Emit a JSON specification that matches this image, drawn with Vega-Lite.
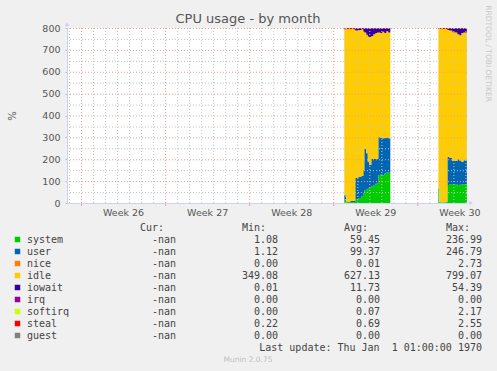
{
  "$schema": "https://vega.github.io/schema/vega-lite/v6.json",
  "width": 400,
  "height": 175,
  "autosize": {"type": "none"},
  "padding": {"left": 67, "top": 28, "right": 30, "bottom": 168},
  "background": "#F0F0F0",
  "view": {"fill": "#FFFFFF", "stroke": null},
  "config": {"font": "DejaVu Sans"},
  "title": {"text": "CPU usage - by month", "font": "DejaVu Sans", "fontSize": 13, "fontWeight": "normal", "color": "#555555", "anchor": "middle", "frame": "group", "dx": -19, "dy": 27, "offset": 6},
  "datasets": {
    "cpu": [
      {"h": 526, "g": 1, "system": 15, "user": 20, "idle": 759, "iowait": 2, "steal": 4},
      {"h": 530, "g": 1, "system": 3, "user": 3, "idle": 789, "iowait": 1, "steal": 4},
      {"h": 538, "g": 1, "system": 4, "user": 5, "idle": 786, "iowait": 1, "steal": 4},
      {"h": 546, "g": 1, "system": 5, "user": 6, "idle": 782, "iowait": 3, "steal": 4},
      {"h": 548, "g": 1, "system": 18, "user": 96, "idle": 675, "iowait": 10, "steal": 1},
      {"h": 554, "g": 1, "system": 23, "user": 96, "idle": 672, "iowait": 8, "steal": 1},
      {"h": 560, "g": 1, "system": 32, "user": 91, "idle": 671, "iowait": 5, "steal": 1},
      {"h": 564, "g": 1, "system": 46, "user": 105, "idle": 633, "iowait": 15, "steal": 1},
      {"h": 566, "g": 1, "system": 59, "user": 188, "idle": 532, "iowait": 20, "steal": 1},
      {"h": 570, "g": 1, "system": 62, "user": 166, "idle": 541, "iowait": 30, "steal": 1},
      {"h": 573, "g": 1, "system": 65, "user": 122, "idle": 574, "iowait": 38, "steal": 1},
      {"h": 576, "g": 1, "system": 70, "user": 104, "idle": 585, "iowait": 40, "steal": 1},
      {"h": 580, "g": 1, "system": 75, "user": 126, "idle": 562, "iowait": 36, "steal": 1},
      {"h": 584, "g": 1, "system": 82, "user": 119, "idle": 570, "iowait": 28, "steal": 1},
      {"h": 588, "g": 1, "system": 88, "user": 113, "idle": 576, "iowait": 22, "steal": 1},
      {"h": 592, "g": 1, "system": 90, "user": 112, "idle": 577, "iowait": 20, "steal": 1},
      {"h": 594, "g": 1, "system": 128, "user": 174, "idle": 477, "iowait": 20, "steal": 1},
      {"h": 598, "g": 1, "system": 130, "user": 168, "idle": 479, "iowait": 22, "steal": 1},
      {"h": 602, "g": 1, "system": 126, "user": 170, "idle": 487, "iowait": 16, "steal": 1},
      {"h": 606, "g": 1, "system": 135, "user": 162, "idle": 480, "iowait": 22, "steal": 1},
      {"h": 610, "g": 1, "system": 140, "user": 160, "idle": 485, "iowait": 14, "steal": 1},
      {"h": 614, "g": 1, "system": 138, "user": 158, "idle": 483, "iowait": 20, "steal": 1},
      {"h": 618, "g": 1, "system": 142, "user": 155, "idle": 484, "iowait": 18, "steal": 1},
      {"h": 714, "g": 2, "system": 60, "user": 5, "idle": 731, "iowait": 0, "steal": 4},
      {"h": 716, "g": 2, "system": 2, "user": 2, "idle": 791, "iowait": 1, "steal": 4},
      {"h": 730, "g": 2, "system": 3, "user": 3, "idle": 789, "iowait": 1, "steal": 4},
      {"h": 732, "g": 2, "system": 82, "user": 130, "idle": 579, "iowait": 8, "steal": 1},
      {"h": 736, "g": 2, "system": 87, "user": 120, "idle": 582, "iowait": 10, "steal": 1},
      {"h": 742, "g": 2, "system": 87, "user": 105, "idle": 589, "iowait": 18, "steal": 1},
      {"h": 748, "g": 2, "system": 87, "user": 105, "idle": 587, "iowait": 20, "steal": 1},
      {"h": 752, "g": 2, "system": 79, "user": 121, "idle": 571, "iowait": 28, "steal": 1},
      {"h": 756, "g": 2, "system": 84, "user": 110, "idle": 573, "iowait": 32, "steal": 1},
      {"h": 760, "g": 2, "system": 85, "user": 104, "idle": 588, "iowait": 22, "steal": 1},
      {"h": 764, "g": 2, "system": 87, "user": 109, "idle": 583, "iowait": 20, "steal": 1},
      {"h": 771, "g": 2, "system": 87, "user": 109, "idle": 583, "iowait": 20, "steal": 1}
    ],
    "series": [
      {"c": "system", "k": 0},
      {"c": "user", "k": 1},
      {"c": "nice", "k": 2},
      {"c": "idle", "k": 3},
      {"c": "iowait", "k": 4},
      {"c": "irq", "k": 5},
      {"c": "softirq", "k": 6},
      {"c": "steal", "k": 7},
      {"c": "guest", "k": 8}
    ],
    "stats": [
      {"name": "system", "cur": "-nan", "min": "1.08", "avg": "59.45", "max": "236.99"},
      {"name": "user", "cur": "-nan", "min": "1.12", "avg": "99.37", "max": "246.79"},
      {"name": "nice", "cur": "-nan", "min": "0.00", "avg": "0.01", "max": "2.73"},
      {"name": "idle", "cur": "-nan", "min": "349.08", "avg": "627.13", "max": "799.07"},
      {"name": "iowait", "cur": "-nan", "min": "0.01", "avg": "11.73", "max": "54.39"},
      {"name": "irq", "cur": "-nan", "min": "0.00", "avg": "0.00", "max": "0.00"},
      {"name": "softirq", "cur": "-nan", "min": "0.00", "avg": "0.07", "max": "2.17"},
      {"name": "steal", "cur": "-nan", "min": "0.22", "avg": "0.69", "max": "2.55"},
      {"name": "guest", "cur": "-nan", "min": "0.00", "avg": "0.00", "max": "0.00"}
    ],
    "dayLines": [
      {"h": -24}, {"h": 24}, {"h": 48}, {"h": 72}, {"h": 96}, {"h": 120}, {"h": 144},
      {"h": 192}, {"h": 216}, {"h": 240}, {"h": 264}, {"h": 288}, {"h": 312},
      {"h": 360}, {"h": 384}, {"h": 408}, {"h": 432}, {"h": 456}, {"h": 480},
      {"h": 528}, {"h": 552}, {"h": 576}, {"h": 600}, {"h": 624}, {"h": 648},
      {"h": 696}, {"h": 720}, {"h": 744}, {"h": 768}
    ],
    "weekLines": [{"h": 0}, {"h": 168}, {"h": 336}, {"h": 504}, {"h": 672}],
    "minorY": [{"v": 50}, {"v": 150}, {"v": 250}, {"v": 350}, {"v": 450}, {"v": 550}, {"v": 650}, {"v": 750}],
    "majorY": [{"v": 100}, {"v": 200}, {"v": 300}, {"v": 400}, {"v": 500}, {"v": 600}, {"v": 700}, {"v": 800}]
  },
  "resolve": {"scale": {"x": "independent", "y": "independent"}},
  "layer": [
    {
      "resolve": {"axis": {"x": "independent", "y": "independent"}},
      "layer": [
        {
          "data": {"name": "cpu"},
          "transform": [
            {"filter": "datum.g == 1"},
            {"fold": ["system", "user", "idle", "iowait", "steal"], "as": ["c", "v"]},
            {"lookup": "c", "from": {"data": {"name": "series"}, "key": "c", "fields": ["k"]}}
          ],
          "mark": {"type": "area", "interpolate": "step-after", "clip": true},
          "encoding": {
            "x": {"field": "h", "type": "quantitative",
              "scale": {"domain": [-28, 771.2], "nice": false, "zero": false},
              "axis": {"values": [84, 252, 420, 588, 756], "labelExpr": "'Week ' + (26 + round((datum.value - 84) / 168))",
                "grid": false, "ticks": false, "domainColor": "#ccd2f5", "labelFont": "DejaVu Sans", "labelFontSize": 9.5,
                "labelColor": "#555555", "labelPadding": 4, "labelFlush": false, "labelOverlap": false, "title": null, "zindex": 1}},
            "y": {"field": "v", "type": "quantitative", "stack": "zero",
              "scale": {"domain": [0, 800], "nice": false, "zero": true},
              "axis": {"values": [0, 100, 200, 300, 400, 500, 600, 700, 800], "grid": false, "tickSize": 2, "tickColor": "#bbbbbb",
                "domainColor": "#ccd2f5", "labelFont": "DejaVu Sans", "labelFontSize": 9.5, "labelColor": "#555555", "labelPadding": 5,
                "labelFlush": false, "labelOverlap": false, "labelBound": false, "title": "%", "titleFont": "DejaVu Sans", "titleFontSize": 10, "titleFontWeight": "normal",
                "titleColor": "#555555", "titlePadding": 24, "zindex": 1}},
            "color": {"field": "c", "type": "nominal",
              "scale": {"domain": ["system", "user", "nice", "idle", "iowait", "irq", "softirq", "steal", "guest"],
                "range": ["#00CC00", "#0066B3", "#FF8000", "#FFCC00", "#330099", "#990099", "#CCFF00", "#FF0000", "#808080"]},
              "legend": null},
            "order": {"field": "k", "type": "quantitative", "sort": "ascending"}
          }
        },
        {
          "data": {"name": "cpu"},
          "transform": [
            {"filter": "datum.g == 2"},
            {"fold": ["system", "user", "idle", "iowait", "steal"], "as": ["c", "v"]},
            {"lookup": "c", "from": {"data": {"name": "series"}, "key": "c", "fields": ["k"]}}
          ],
          "mark": {"type": "area", "interpolate": "step-after", "clip": true},
          "encoding": {
            "x": {"field": "h", "type": "quantitative", "axis": null},
            "y": {"field": "v", "type": "quantitative", "stack": "zero", "axis": null},
            "color": {"field": "c", "type": "nominal", "legend": null},
            "order": {"field": "k", "type": "quantitative", "sort": "ascending"}
          }
        },
        {
          "data": {"name": "dayLines"},
          "mark": {"type": "rule", "color": "#c4c4c4", "strokeWidth": 1, "strokeDash": [1, 2], "xOffset": 0.5},
          "encoding": {"x": {"field": "h", "type": "quantitative", "axis": null}}
        },
        {
          "data": {"name": "minorY"},
          "mark": {"type": "rule", "color": "#c4c4c4", "strokeWidth": 1, "strokeDash": [1, 2], "yOffset": 0.5},
          "encoding": {"y": {"field": "v", "type": "quantitative", "axis": null}}
        },
        {
          "data": {"name": "weekLines"},
          "mark": {"type": "rule", "color": "#ee9a9a", "strokeWidth": 1, "strokeDash": [1, 2], "xOffset": 0.5},
          "encoding": {"x": {"field": "h", "type": "quantitative", "axis": null}}
        },
        {
          "data": {"name": "majorY"},
          "mark": {"type": "rule", "color": "#ee9a9a", "strokeWidth": 1, "strokeDash": [1, 2], "yOffset": 0.5},
          "encoding": {"y": {"field": "v", "type": "quantitative", "axis": null}}
        },
        {
          "data": {"name": "weekLines"},
          "mark": {"type": "rule", "color": "#ee9a9a", "strokeWidth": 1, "xOffset": 0.5},
          "encoding": {"x": {"field": "h", "type": "quantitative", "axis": null}, "y": {"datum": 0, "type": "quantitative", "axis": null}, "y2": {"datum": -14}}
        },
        {
          "data": {"values": [{"a": 1}]},
          "mark": {"type": "point", "shape": "triangle-right", "filled": true, "size": 22, "color": "#ccd2f5", "opacity": 1},
          "encoding": {"x": {"datum": 779, "type": "quantitative", "axis": null}, "y": {"datum": 0, "type": "quantitative", "axis": null}}
        },
        {
          "data": {"values": [{"a": 1}]},
          "mark": {"type": "point", "shape": "triangle-up", "filled": true, "size": 22, "color": "#ccd2f5", "opacity": 1},
          "encoding": {"x": {"datum": -28, "type": "quantitative", "axis": null}, "y": {"datum": 817, "type": "quantitative", "axis": null}}
        },
        {
          "data": {"values": [{"t": "RRDTOOL / TOBI OETIKER"}]},
          "mark": {"type": "text", "angle": 90, "align": "center", "baseline": "middle", "font": "DejaVu Sans", "fontSize": 7.5, "color": "#c8c8c8"},
          "encoding": {"x": {"datum": 814, "type": "quantitative", "axis": null}, "y": {"datum": 683, "type": "quantitative", "axis": null}, "text": {"field": "t"}}
        }
      ]
    },
    {
      "layer": [
        {
          "data": {"name": "stats"},
          "mark": {"type": "point", "shape": "square", "filled": true, "size": 30, "opacity": 1, "xOffset": -56.5},
          "encoding": {
            "x": {"datum": "name", "type": "nominal", "scale": {"type": "point", "domain": ["name", "cur", "min", "avg", "max"], "range": [7, 415], "padding": 0}, "axis": null},
            "y": {"field": "name", "type": "nominal", "scale": {"type": "point", "domain": ["hdr", "system", "user", "nice", "idle", "iowait", "irq", "softirq", "steal", "guest", "upd", "munin"], "range": [199.5, 331.5], "padding": 0}, "axis": null},
            "color": {"field": "name", "type": "nominal", "legend": null}
          }
        },
        {
          "data": {"name": "stats"},
          "mark": {"type": "text", "align": "left", "baseline": "middle", "dx": -47, "font": "DejaVu Sans Mono", "fontSize": 10, "color": "#444444"},
          "encoding": {
            "x": {"datum": "name", "type": "nominal"},
            "y": {"field": "name", "type": "nominal"},
            "text": {"field": "name"}
          }
        },
        {
          "data": {"name": "stats"},
          "transform": [{"fold": ["cur", "min", "avg", "max"], "as": ["col", "val"]}],
          "mark": {"type": "text", "align": "right", "baseline": "middle", "font": "DejaVu Sans Mono", "fontSize": 10, "color": "#444444"},
          "encoding": {
            "x": {"field": "col", "type": "nominal"},
            "y": {"field": "name", "type": "nominal"},
            "text": {"field": "val"}
          }
        },
        {
          "data": {"values": [{"col": "cur", "lab": "Cur:"}, {"col": "min", "lab": "Min:"}, {"col": "avg", "lab": "Avg:"}, {"col": "max", "lab": "Max:"}]},
          "mark": {"type": "text", "align": "right", "baseline": "middle", "dx": -12, "font": "DejaVu Sans Mono", "fontSize": 10, "color": "#444444"},
          "encoding": {
            "x": {"field": "col", "type": "nominal"},
            "y": {"datum": "hdr", "type": "nominal"},
            "text": {"field": "lab"}
          }
        },
        {
          "data": {"values": [{"lab": "Last update: Thu Jan \u00a01 01:00:00 1970"}]},
          "mark": {"type": "text", "align": "right", "baseline": "middle", "font": "DejaVu Sans Mono", "fontSize": 10, "color": "#444444"},
          "encoding": {
            "x": {"datum": "max", "type": "nominal"},
            "y": {"datum": "upd", "type": "nominal"},
            "text": {"field": "lab"}
          }
        },
        {
          "data": {"values": [{"lab": "Munin 2.0.75"}]},
          "mark": {"type": "text", "align": "center", "baseline": "middle", "dx": -30, "font": "DejaVu Sans", "fontSize": 7.5, "color": "#c0c0c0"},
          "encoding": {
            "x": {"datum": "min", "type": "nominal"},
            "y": {"datum": "munin", "type": "nominal"},
            "text": {"field": "lab"}
          }
        }
      ]
    }
  ]
}
